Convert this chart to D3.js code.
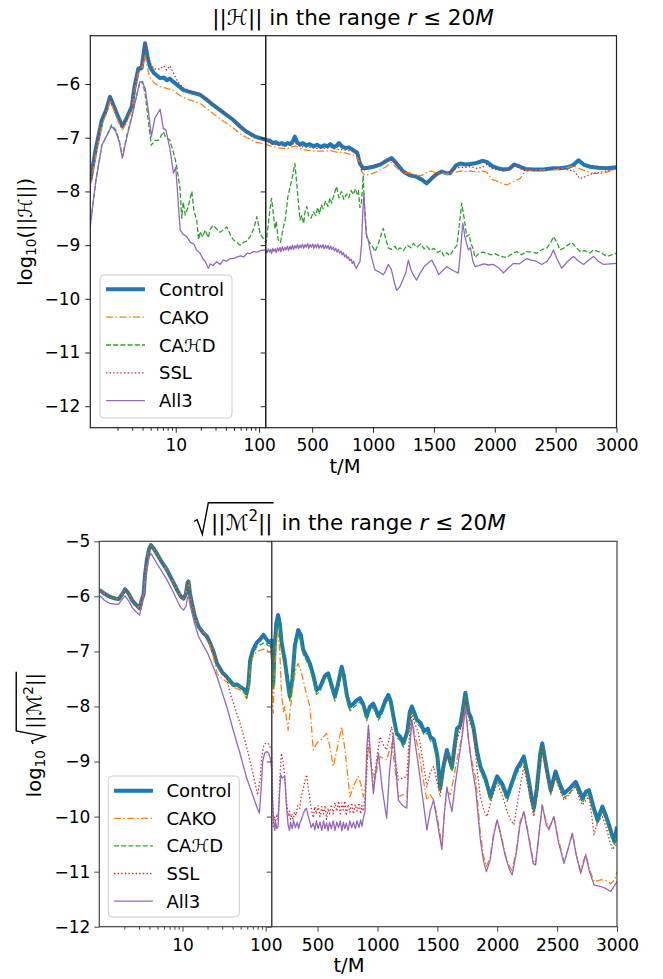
<!DOCTYPE html>
<html>
<head>
<meta charset="utf-8">
<script src="https://cdn.jsdelivr.net/npm/d3@7"></script>
<style>
  body { margin: 0; background: #fff; }
  text { font-family: "DejaVu Sans", sans-serif; }
</style>
</head>
<body>
<svg id="fig" width="663" height="979"></svg>
<script>
// series names + tick labels
const seriesNames = ['Control', 'CAKO', 'CA\u210BD', 'SSL', 'All3']
const xTicksLog = [10, 100]
const xTicksLin = [500, 1000, 1500, 2000, 2500, 3000]
const yTicksTop = [-6, -7, -8, -9, -10, -11, -12]
const yTicksBot = [-5, -6, -7, -8, -9, -10, -11, -12]

// ---- top panel: log10 ||H||, pairs of [t/M, value]
const topControl = [[0.94,-7.82],[1.1,-7.2],[1.3,-6.67],[1.45,-6.5],[1.63,-6.24],[1.85,-6.45],[2.05,-6.62],[2.29,-6.79],[2.6,-6.62],[2.97,-6.42],[3.2,-6.05],[3.56,-5.71],[3.9,-5.7],[4.28,-5.24],[4.6,-5.5],[4.9,-5.68],[5.5,-5.8],[6.5,-5.89],[7.2,-5.88],[7.8,-5.93],[8.5,-5.9],[9.4,-5.96],[10.5,-6.02],[12.3,-6.11],[15,-6.15],[19.6,-6.2],[23,-6.28],[28,-6.39],[35,-6.5],[49,-6.67],[60,-6.8],[71,-6.89],[90,-6.98],[120,-7.04],
  [150,-7.05],[175,-7.1],[200,-7.08],[225,-7.12],[250,-7.1],[275,-7.13],[300,-7.1],[320,-7.12],[340,-7.07],[358,-6.98],[375,-7.08],[400,-7.13],[420,-7.1],[450,-7.14],[480,-7.12],[510,-7.16],[540,-7.13],[570,-7.17],[600,-7.14],[625,-7.16],[650,-7.12],[675,-7.17],[700,-7.15],[720,-7.1],[750,-7.17],[775,-7.19],[800,-7.18],[837,-7.23],[870,-7.28],[892,-7.48],[919,-7.57],[960,-7.56],[1002,-7.54],[1060,-7.5],[1110,-7.43],[1153,-7.38],[1190,-7.47],[1248,-7.63],[1300,-7.7],[1350,-7.72],[1400,-7.78],[1441,-7.85],[1480,-7.76],[1520,-7.68],[1564,-7.63],[1600,-7.66],[1632,-7.66],[1680,-7.52],[1715,-7.48],[1760,-7.5],[1800,-7.49],[1850,-7.47],[1900,-7.43],[1934,-7.45],[1980,-7.53],[2030,-7.57],[2071,-7.59],[2120,-7.58],[2160,-7.5],[2208,-7.54],[2250,-7.58],[2317,-7.59],[2400,-7.59],[2480,-7.57],[2537,-7.57],[2600,-7.55],[2650,-7.5],[2688,-7.42],[2730,-7.5],[2784,-7.54],[2850,-7.56],[2920,-7.57],[3000,-7.55]]
const topCAKO = [[0.94,-7.91],[1.1,-7.3],[1.3,-6.75],[1.45,-6.58],[1.63,-6.3],[1.85,-6.52],[2.05,-6.7],[2.29,-6.86],[2.6,-6.7],[2.97,-6.48],[3.2,-6.12],[3.56,-5.76],[3.9,-5.75],[4.28,-5.46],[4.6,-5.72],[4.9,-5.88],[5.5,-5.98],[6.5,-6.05],[7.8,-6.08],[9.4,-6.12],[10.5,-6.18],[12.3,-6.25],[15,-6.3],[19.6,-6.36],[23,-6.44],[28,-6.55],[35,-6.66],[49,-6.82],[60,-6.93],[71,-7.0],[90,-7.08],[120,-7.12],
  [150,-7.15],[200,-7.18],[250,-7.2],[300,-7.2],[358,-7.15],[420,-7.22],[480,-7.24],[540,-7.25],[600,-7.25],[650,-7.24],[700,-7.27],[750,-7.27],[800,-7.3],[850,-7.33],[880,-7.4],[905,-7.62],[930,-7.7],[980,-7.68],[1040,-7.62],[1100,-7.55],[1153,-7.46],[1190,-7.55],[1248,-7.66],[1300,-7.65],[1350,-7.7],[1400,-7.7],[1441,-7.65],[1480,-7.62],[1520,-7.66],[1564,-7.65],[1600,-7.68],[1632,-7.66],[1680,-7.64],[1715,-7.62],[1760,-7.63],[1800,-7.62],[1850,-7.64],[1900,-7.62],[1934,-7.64],[1980,-7.78],[2030,-7.82],[2071,-7.86],[2100,-7.88],[2150,-7.82],[2208,-7.76],[2250,-7.62],[2317,-7.6],[2400,-7.6],[2480,-7.6],[2537,-7.58],[2600,-7.55],[2650,-7.52],[2700,-7.58],[2750,-7.62],[2800,-7.66],[2850,-7.67],[2920,-7.64],[3000,-7.58]]
const topCAHD = [[0.94,-8.66],[1.1,-7.8],[1.3,-7.14],[1.5,-6.95],[1.7,-6.76],[1.9,-6.85],[2.1,-7.05],[2.29,-7.35],[2.6,-6.95],[2.97,-6.6],[3.3,-6.3],[3.7,-5.98],[4.0,-5.95],[4.3,-6.2],[4.7,-6.7],[5.1,-7.14],[5.6,-7.05],[6.2,-7.05],[7.1,-6.89],[7.6,-7.0],[8.5,-7.04],[9.1,-7.2],[9.8,-7.38],[10.4,-7.59],[11.3,-7.97],[11.8,-8.5],[12.3,-8.2],[13,-8.44],[14,-8.3],[15.6,-8.0],[16.5,-8.35],[17.9,-8.55],[18.8,-8.9],[19.6,-8.75],[21,-8.85],[22.5,-8.72],[24.6,-8.86],[26,-8.7],[28,-8.63],[31,-8.7],[34,-8.76],[37,-8.72],[41,-8.66],[45,-8.8],[49,-8.9],[54,-8.95],[59,-9.0],[65,-8.95],[72,-8.92],[78,-8.84],[86,-8.7],[94,-8.47],[98,-8.6],[103,-8.8],[110,-8.85],[120,-8.95],
  [125,-8.9],[140,-8.6],[155,-8.3],[166,-8.13],[180,-8.4],[195,-8.7],[205,-8.55],[220,-8.9],[240,-8.95],[260,-8.7],[280,-8.5],[300,-8.1],[320,-7.9],[340,-7.7],[358,-7.48],[375,-7.9],[390,-8.3],[400,-8.53],[415,-8.45],[430,-8.6],[440,-8.4],[455,-8.28],[470,-8.45],[490,-8.5],[510,-8.38],[530,-8.45],[545,-8.3],[560,-8.42],[575,-8.25],[590,-8.32],[610,-8.18],[630,-8.28],[645,-8.12],[660,-8.22],[680,-8.05],[700,-7.91],[720,-8.12],[740,-8.0],[760,-8.15],[782,-8.05],[800,-8.12],[820,-7.98],[837,-8.06],[855,-7.95],[870,-8.05],[880,-7.98],[892,-8.3],[905,-8.2],[919,-7.7],[930,-8.28],[947,-8.84],[970,-8.95],[990,-9.0],[1015,-9.12],[1040,-9.0],[1060,-8.85],[1084,-8.69],[1100,-8.85],[1125,-9.05],[1150,-9.08],[1180,-9.02],[1200,-9.1],[1221,-9.05],[1250,-9.1],[1280,-9.0],[1310,-9.05],[1331,-8.97],[1360,-9.04],[1390,-8.98],[1420,-9.07],[1441,-9.02],[1470,-9.1],[1500,-9.06],[1530,-9.14],[1560,-9.1],[1580,-9.2],[1605,-9.14],[1630,-9.2],[1660,-9.09],[1690,-9.0],[1710,-8.6],[1728,-8.22],[1745,-8.45],[1770,-8.84],[1790,-8.8],[1803,-8.97],[1820,-9.05],[1838,-9.23],[1870,-9.15],[1900,-9.13],[1934,-9.15],[1970,-9.18],[2000,-9.16],[2040,-9.2],[2070,-9.22],[2099,-9.23],[2130,-9.18],[2160,-9.14],[2181,-9.12],[2220,-9.18],[2260,-9.12],[2300,-9.13],[2345,-9.15],[2390,-9.08],[2430,-9.05],[2460,-8.95],[2482,-8.84],[2510,-8.95],[2537,-9.09],[2570,-9.05],[2600,-9.0],[2633,-8.95],[2670,-9.05],[2702,-9.12],[2740,-9.1],[2780,-9.15],[2811,-9.09],[2850,-9.12],[2880,-9.15],[2920,-9.21],[2960,-9.18],[3000,-9.15]]
const topSSL = [[0.94,-7.85],[1.1,-7.22],[1.3,-6.68],[1.45,-6.5],[1.63,-6.25],[1.85,-6.46],[2.05,-6.63],[2.29,-6.8],[2.6,-6.62],[2.97,-6.42],[3.2,-6.05],[3.56,-5.7],[3.9,-5.68],[4.28,-5.24],[4.6,-5.45],[4.9,-5.6],[5.5,-5.72],[6.5,-5.72],[7.2,-5.66],[7.8,-5.74],[8.5,-5.66],[9.4,-5.8],[10.5,-5.95],[12.3,-6.07],[15,-6.13],[19.6,-6.18],[23,-6.26],[28,-6.37],[35,-6.48],[49,-6.65],[60,-6.78],[71,-6.88],[90,-6.98],[120,-7.05],
  [150,-7.1],[200,-7.13],[250,-7.15],[300,-7.15],[358,-7.1],[420,-7.17],[480,-7.18],[540,-7.2],[600,-7.2],[650,-7.18],[700,-7.22],[750,-7.22],[800,-7.24],[850,-7.27],[880,-7.35],[905,-7.6],[930,-7.6],[960,-7.55],[1002,-7.52],[1060,-7.48],[1110,-7.43],[1153,-7.42],[1190,-7.5],[1248,-7.63],[1300,-7.7],[1350,-7.73],[1400,-7.78],[1441,-7.83],[1480,-7.76],[1520,-7.68],[1564,-7.63],[1600,-7.64],[1632,-7.64],[1680,-7.57],[1715,-7.55],[1760,-7.55],[1800,-7.54],[1850,-7.57],[1900,-7.55],[1934,-7.5],[1980,-7.58],[2030,-7.6],[2071,-7.62],[2120,-7.58],[2160,-7.5],[2208,-7.57],[2250,-7.62],[2317,-7.6],[2400,-7.6],[2480,-7.58],[2537,-7.57],[2600,-7.6],[2650,-7.62],[2700,-7.76],[2750,-7.72],[2784,-7.68],[2850,-7.65],[2920,-7.62],[3000,-7.58]]
const topAll3 = [[0.94,-8.66],[1.1,-7.8],[1.3,-7.14],[1.5,-6.95],[1.7,-6.79],[1.9,-6.88],[2.1,-7.08],[2.29,-7.38],[2.6,-6.98],[2.97,-6.62],[3.3,-6.3],[3.7,-5.96],[4.0,-5.98],[4.3,-6.08],[4.7,-6.5],[5.1,-6.98],[5.6,-6.64],[6.5,-6.47],[7.1,-6.83],[7.6,-6.85],[8.5,-7.2],[9.4,-7.66],[10.0,-7.55],[10.6,-8.1],[11.3,-8.72],[12.3,-8.8],[13.5,-8.84],[15,-8.95],[16.5,-8.98],[17.9,-9.1],[19.6,-9.15],[21,-9.25],[22.5,-9.3],[24.6,-9.43],[26,-9.35],[28,-9.38],[31,-9.31],[34,-9.36],[37,-9.28],[41,-9.3],[45,-9.25],[49,-9.25],[55,-9.22],[60,-9.2],[65,-9.22],[72,-9.15],[78,-9.16],[85,-9.12],[95,-9.13],[105,-9.1],[120,-9.09],
  [128,-9.15],[138,-9.07],[147,-9.13],[158,-9.08],[166,-9.16],[176,-9.06],[185,-9.12],[196,-9.07],[204,-9.14],[215,-9.05],[224,-9.11],[236,-9.04],[243,-9.12],[256,-9.03],[264,-9.1],[277,-9.04],[284,-9.09],[297,-9.02],[305,-9.1],[318,-9.02],[326,-9.08],[338,-9.0],[346,-9.08],[358,-9.01],[367,-9.06],[380,-8.99],[388,-9.07],[400,-9.0],[409,-9.05],[421,-8.98],[430,-9.06],[442,-8.99],[451,-9.04],[463,-8.97],[472,-9.06],[484,-8.99],[493,-9.04],[505,-8.98],[514,-9.06],[526,-8.99],[535,-9.05],[547,-8.98],[556,-9.06],[568,-9.0],[577,-9.05],[589,-8.99],[598,-9.07],[610,-9.0],[619,-9.06],[631,-9.01],[640,-9.08],[652,-9.02],[661,-9.08],[673,-9.04],[682,-9.11],[694,-9.06],[703,-9.13],[715,-9.08],[724,-9.15],[736,-9.11],[745,-9.18],[757,-9.14],[766,-9.22],[778,-9.18],[787,-9.25],[799,-9.22],[808,-9.29],[820,-9.26],[829,-9.34],[841,-9.3],[850,-9.38],[864,-9.43],[880,-9.35],[892,-9.31],[905,-9.0],[915,-8.4],[925,-8.04],[935,-8.5],[945,-8.8],[960,-8.9],[985,-9.2],[1015,-9.46],[1050,-9.5],[1084,-9.55],[1100,-9.5],[1125,-9.36],[1150,-9.45],[1175,-9.7],[1194,-9.84],[1210,-9.8],[1221,-9.77],[1245,-9.65],[1270,-9.5],[1290,-9.28],[1310,-9.45],[1330,-9.55],[1358,-9.65],[1380,-9.55],[1420,-9.4],[1460,-9.32],[1482,-9.28],[1510,-9.4],[1540,-9.55],[1560,-9.5],[1605,-9.4],[1640,-9.45],[1680,-9.5],[1701,-9.52],[1715,-9.2],[1737,-8.59],[1755,-8.85],[1783,-9.09],[1800,-9.05],[1820,-9.3],[1838,-9.4],[1870,-9.38],[1910,-9.35],[1950,-9.37],[1989,-9.36],[2030,-9.42],[2071,-9.52],[2100,-9.45],[2153,-9.34],[2200,-9.35],[2230,-9.3],[2263,-9.25],[2300,-9.28],[2340,-9.3],[2386,-9.36],[2430,-9.3],[2460,-9.2],[2482,-9.09],[2510,-9.25],[2550,-9.43],[2600,-9.3],[2647,-9.21],[2690,-9.3],[2729,-9.36],[2770,-9.28],[2811,-9.21],[2850,-9.3],[2893,-9.36],[2950,-9.35],[3000,-9.34]]

// ---- bottom panel: log10 sqrt(||M^2||)
const botControl = [[1,-5.88],[1.15,-5.95],[1.35,-6.01],[1.55,-6.04],[1.71,-6.05],[1.85,-5.98],[2.04,-5.87],[2.25,-5.95],[2.48,-6.07],[2.75,-6.15],[3.05,-6.22],[3.25,-6.05],[3.4,-5.97],[3.55,-5.6],[3.73,-5.34],[3.95,-5.15],[4.17,-5.07],[4.5,-5.13],[4.9,-5.22],[5.5,-5.35],[6.5,-5.52],[7.5,-5.7],[8.6,-5.88],[9.5,-6.0],[10.3,-6.04],[11.0,-5.95],[11.5,-5.75],[11.8,-5.73],[12.3,-5.95],[13,-6.13],[14,-6.35],[15.6,-6.55],[17.9,-6.67],[19.5,-6.72],[21.5,-6.85],[23.5,-7.0],[26,-7.22],[30,-7.38],[34,-7.46],[38,-7.55],[41,-7.61],[45,-7.6],[49,-7.64],[54,-7.68],[59,-7.76],[62,-7.6],[65,-7.16],[70,-6.98],[78,-6.84],[86,-6.78],[94,-6.7],[100,-6.76],[108,-6.83],[114,-6.82],
  [117,-6.8],[124,-7.3],[130,-7.6],[140,-7.0],[155,-6.5],[170,-6.34],[185,-6.5],[200,-6.85],[226,-7.16],[250,-7.55],[268,-7.82],[290,-7.5],[310,-6.9],[338,-6.61],[360,-6.7],[380,-6.97],[410,-7.1],[436,-7.22],[460,-7.4],[492,-7.7],[520,-7.65],[560,-7.45],[589,-7.4],[615,-7.6],[645,-7.82],[670,-7.6],[701,-7.28],[720,-7.45],[745,-7.8],[770,-8.0],[800,-7.95],[830,-7.88],[854,-7.85],[880,-7.95],[910,-8.18],[938,-8.0],[965,-7.95],[985,-8.05],[1008,-8.18],[1040,-8.05],[1065,-7.9],[1091,-7.79],[1110,-7.9],[1135,-8.2],[1161,-8.49],[1190,-8.55],[1217,-8.67],[1250,-8.45],[1270,-8.1],[1287,-8.0],[1305,-8.1],[1329,-8.24],[1360,-8.3],[1390,-8.45],[1420,-8.4],[1441,-8.55],[1470,-8.6],[1500,-8.9],[1524,-9.49],[1550,-9.1],[1580,-8.79],[1600,-8.95],[1622,-9.11],[1645,-8.7],[1664,-8.4],[1690,-8.35],[1710,-8.1],[1734,-7.75],[1760,-8.1],[1780,-8.2],[1803,-8.4],[1830,-8.8],[1859,-9.09],[1900,-9.3],[1943,-9.64],[1970,-9.45],[1999,-9.27],[2040,-9.4],[2083,-9.64],[2120,-9.4],[2160,-9.15],[2200,-9.0],[2222,-8.91],[2260,-9.3],[2290,-9.7],[2306,-9.85],[2330,-9.5],[2360,-8.85],[2376,-8.67],[2410,-9.1],[2446,-9.52],[2487,-9.18],[2520,-9.4],[2557,-9.58],[2600,-9.5],[2655,-9.37],[2690,-9.55],[2711,-9.67],[2740,-9.55],[2766,-9.52],[2800,-9.8],[2837,-10.06],[2878,-9.82],[2910,-10.0],[2940,-10.2],[2962,-10.36],[2980,-10.45],[3000,-10.18]]
const botCAKO = [[1,-5.88],[1.15,-5.95],[1.35,-6.01],[1.55,-6.04],[1.71,-6.05],[1.85,-5.98],[2.04,-5.87],[2.25,-5.95],[2.48,-6.07],[2.75,-6.15],[3.05,-6.22],[3.25,-6.05],[3.4,-5.97],[3.55,-5.6],[3.73,-5.34],[3.95,-5.15],[4.17,-5.07],[4.5,-5.13],[4.9,-5.22],[5.5,-5.35],[6.5,-5.52],[7.5,-5.7],[8.6,-5.88],[9.5,-6.0],[10.3,-6.04],[11.0,-5.95],[11.5,-5.75],[11.8,-5.73],[12.3,-5.95],[13,-6.13],[14,-6.35],[15.6,-6.55],[17.9,-6.65],[20,-6.75],[23.5,-7.1],[26,-7.4],[30,-7.5],[34,-7.55],[41,-7.65],[49,-7.7],[54,-7.75],[59,-7.86],[62,-7.7],[65,-7.3],[70,-7.1],[78,-7.0],[86,-6.98],[94,-6.96],[104,-6.98],[114,-6.95],
  [117,-7.03],[124,-7.6],[130,-8.12],[140,-7.3],[155,-6.8],[170,-6.67],[185,-7.0],[198,-7.73],[215,-8.1],[226,-8.0],[240,-8.2],[254,-8.43],[270,-8.1],[296,-7.6],[320,-7.3],[338,-7.22],[360,-7.35],[380,-7.52],[410,-7.8],[436,-8.0],[464,-8.79],[492,-8.67],[530,-8.6],[575,-8.49],[600,-8.7],[631,-9.09],[660,-8.8],[701,-8.37],[730,-8.8],[770,-9.64],[800,-9.45],[840,-9.27],[860,-9.4],[882,-9.64],[900,-9.4],[924,-8.73],[950,-9.1],[980,-9.33],[1000,-9.1],[1022,-8.91],[1050,-8.95],[1077,-8.97],[1100,-8.8],[1119,-8.67],[1145,-9.1],[1175,-9.64],[1210,-9.6],[1245,-9.64],[1265,-8.8],[1287,-8.24],[1310,-8.5],[1343,-8.79],[1380,-9.3],[1413,-9.7],[1440,-9.6],[1469,-9.7],[1500,-10.0],[1538,-10.54],[1560,-9.9],[1580,-9.55],[1610,-9.6],[1636,-9.3],[1665,-8.95],[1700,-8.6],[1734,-8.0],[1760,-8.6],[1789,-9.0],[1820,-9.3],[1859,-10.3],[1885,-10.7],[1909,-10.91],[1940,-10.75],[1970,-10.3],[1999,-10.06],[2030,-10.3],[2069,-10.7],[2100,-10.9],[2125,-10.98],[2160,-10.6],[2190,-10.1],[2222,-9.91],[2260,-10.3],[2300,-10.8],[2320,-10.85],[2350,-10.3],[2376,-9.79],[2410,-10.1],[2432,-10.2],[2473,-10.0],[2510,-10.4],[2557,-10.82],[2590,-10.6],[2627,-10.3],[2660,-10.7],[2697,-10.98],[2720,-10.8],[2739,-10.68],[2770,-10.95],[2808,-11.18],[2864,-11.15],[2900,-11.15],[2948,-11.22],[2980,-11.15],[3000,-11.0]]
const botCAHD = [[1,-5.88],[1.15,-5.95],[1.35,-6.01],[1.55,-6.04],[1.71,-6.05],[1.85,-5.98],[2.04,-5.87],[2.25,-5.95],[2.48,-6.07],[2.75,-6.15],[3.05,-6.22],[3.25,-6.05],[3.4,-5.97],[3.55,-5.6],[3.73,-5.34],[3.95,-5.15],[4.17,-5.07],[4.5,-5.13],[4.9,-5.22],[5.5,-5.35],[6.5,-5.52],[7.5,-5.7],[8.6,-5.88],[9.5,-6.0],[10.3,-6.04],[11.0,-5.95],[11.5,-5.75],[11.8,-5.73],[12.3,-5.95],[13,-6.13],[14,-6.35],[15.6,-6.55],[17.9,-6.67],[19.5,-6.72],[21.5,-6.85],[23.5,-7.0],[26,-7.22],[30,-7.38],[34,-7.46],[38,-7.55],[41,-7.61],[45,-7.6],[49,-7.64],[54,-7.7],[59,-7.85],[62,-7.7],[65,-7.3],[70,-7.05],[78,-6.92],[86,-6.88],[94,-6.85],[100,-6.85],[108,-6.9],[114,-6.9],
  [117,-6.88],[124,-7.4],[130,-7.68],[140,-7.1],[155,-6.6],[170,-6.45],[185,-6.6],[200,-6.95],[226,-7.25],[250,-7.62],[268,-7.9],[290,-7.6],[310,-7.0],[338,-6.72],[360,-6.8],[380,-7.05],[410,-7.18],[436,-7.3],[460,-7.48],[492,-7.78],[520,-7.72],[560,-7.52],[589,-7.48],[615,-7.68],[645,-7.9],[670,-7.68],[701,-7.36],[720,-7.52],[745,-7.88],[770,-8.08],[800,-8.02],[830,-7.96],[854,-7.92],[880,-8.02],[910,-8.26],[938,-8.05],[965,-8.02],[985,-8.12],[1008,-8.25],[1040,-8.12],[1065,-7.97],[1091,-7.86],[1110,-7.97],[1135,-8.28],[1161,-8.56],[1190,-8.62],[1217,-8.74],[1250,-8.52],[1270,-8.17],[1287,-8.07],[1305,-8.17],[1329,-8.31],[1360,-8.38],[1390,-8.52],[1420,-8.48],[1441,-8.62],[1470,-8.68],[1500,-8.98],[1524,-9.56],[1550,-9.18],[1580,-8.86],[1600,-9.02],[1622,-9.18],[1645,-8.77],[1664,-8.47],[1690,-8.42],[1710,-8.17],[1734,-7.8],[1760,-8.17],[1780,-8.27],[1803,-8.47],[1830,-8.88],[1859,-9.17],[1900,-9.38],[1943,-9.72],[1970,-9.53],[1999,-9.35],[2040,-9.48],[2083,-9.72],[2120,-9.48],[2160,-9.23],[2200,-9.08],[2222,-8.99],[2260,-9.38],[2290,-9.78],[2306,-9.93],[2330,-9.58],[2360,-8.93],[2376,-8.75],[2410,-9.18],[2446,-9.6],[2487,-9.26],[2520,-9.48],[2557,-9.66],[2600,-9.58],[2655,-9.45],[2690,-9.63],[2711,-9.75],[2740,-9.63],[2766,-9.6],[2800,-9.88],[2837,-10.14],[2878,-9.9],[2910,-10.08],[2940,-10.28],[2962,-10.44],[2980,-10.5],[3000,-10.26]]
const botSSL = [[1,-5.88],[1.15,-5.95],[1.35,-6.01],[1.55,-6.04],[1.71,-6.05],[1.85,-5.98],[2.04,-5.87],[2.25,-5.95],[2.48,-6.07],[2.75,-6.15],[3.05,-6.22],[3.25,-6.05],[3.4,-5.97],[3.55,-5.6],[3.73,-5.34],[3.95,-5.15],[4.17,-5.07],[4.5,-5.13],[4.9,-5.22],[5.5,-5.35],[6.5,-5.52],[7.5,-5.7],[8.6,-5.88],[9.5,-6.0],[10.3,-6.04],[11.0,-5.95],[11.5,-5.75],[11.8,-5.73],[12.3,-5.95],[13,-6.13],[14,-6.35],[15.6,-6.55],[17.9,-6.67],[19.5,-6.72],[21.5,-6.85],[23.5,-7.0],[26,-7.22],[30,-7.38],[34,-7.5],[38,-7.8],[41,-7.94],[49,-8.3],[59,-8.73],[70,-9.2],[80,-9.61],[86,-9.3],[90,-8.9],[94,-8.73],[100,-8.66],[108,-8.68],[114,-8.75],
  [117,-8.8],[124,-9.5],[130,-10.18],[140,-10.0],[150,-10.1],[160,-9.95],[170,-10.05],[185,-9.3],[198,-8.85],[212,-9.0],[226,-9.27],[240,-9.7],[254,-10.0],[265,-9.9],[275,-10.05],[285,-9.95],[296,-10.08],[308,-9.92],[320,-9.98],[335,-9.8],[350,-9.85],[365,-9.62],[380,-9.5],[394,-9.35],[408,-9.24],[420,-9.45],[430,-9.6],[447,-9.85],[464,-10.02],[477,-9.82],[490,-9.95],[505,-9.8],[520,-10.0],[535,-9.82],[550,-9.95],[562,-9.8],[575,-10.05],[588,-9.85],[600,-9.95],[615,-9.78],[630,-9.95],[645,-9.75],[660,-9.9],[675,-9.72],[690,-9.95],[703,-9.75],[715,-9.88],[728,-9.72],[740,-9.98],[755,-9.78],[770,-9.92],[785,-9.75],[799,-9.95],[815,-9.78],[830,-9.9],[845,-9.75],[860,-9.95],[870,-9.8],[882,-9.9],[900,-9.6],[910,-9.27],[924,-8.37],[945,-9.0],[966,-9.52],[990,-9.0],[1022,-8.55],[1050,-8.7],[1077,-8.79],[1100,-8.55],[1119,-8.37],[1145,-8.9],[1175,-9.33],[1210,-9.3],[1245,-9.27],[1265,-8.6],[1287,-8.12],[1310,-8.3],[1343,-8.49],[1380,-9.0],[1413,-9.46],[1440,-9.2],[1469,-9.09],[1500,-9.4],[1524,-9.64],[1550,-9.2],[1580,-8.91],[1610,-9.0],[1636,-9.0],[1665,-8.6],[1692,-8.43],[1734,-7.88],[1770,-8.3],[1803,-8.43],[1830,-9.1],[1859,-9.64],[1890,-9.9],[1915,-10.0],[1950,-9.7],[1999,-9.39],[2040,-9.6],[2083,-9.91],[2110,-10.05],[2139,-10.15],[2180,-9.6],[2222,-9.09],[2260,-9.5],[2306,-10.0],[2340,-9.5],[2376,-8.76],[2410,-9.2],[2446,-9.58],[2487,-9.3],[2520,-9.5],[2557,-9.7],[2600,-9.6],[2655,-9.46],[2690,-9.7],[2711,-9.79],[2740,-9.7],[2766,-9.64],[2790,-10.0],[2808,-10.33],[2840,-10.1],[2878,-10.0],[2910,-10.2],[2940,-10.45],[2962,-10.6],[3000,-10.49]]
const botAll3 = [[1,-5.98],[1.15,-6.07],[1.35,-6.13],[1.55,-6.14],[1.71,-6.14],[1.85,-6.07],[2.04,-5.99],[2.25,-6.08],[2.48,-6.2],[2.75,-6.28],[3.05,-6.34],[3.25,-6.15],[3.4,-6.0],[3.55,-5.75],[3.73,-5.5],[3.95,-5.3],[4.17,-5.22],[4.5,-5.3],[4.9,-5.4],[5.5,-5.52],[6.5,-5.7],[7.5,-5.88],[8.6,-6.07],[9.5,-6.2],[10.3,-6.25],[11.0,-6.18],[11.5,-6.02],[11.8,-5.99],[12.3,-6.15],[13,-6.3],[14,-6.5],[15.6,-6.73],[17.9,-6.9],[20,-7.03],[23,-7.25],[26,-7.46],[30,-7.75],[34,-8.0],[41,-8.45],[49,-8.85],[59,-9.3],[71,-9.64],[78,-9.82],[84,-9.94],[88,-9.5],[92,-9.0],[97,-8.85],[103,-8.82],[108,-8.84],[114,-8.95],
  [117,-9.1],[124,-9.7],[135,-10.12],[143,-10.25],[150,-10.1],[160,-10.22],[170,-10.18],[182,-9.6],[193,-9.24],[205,-9.3],[226,-9.27],[240,-9.8],[254,-10.15],[265,-10.25],[275,-10.1],[288,-10.22],[300,-10.08],[315,-10.2],[330,-10.1],[342,-10.22],[352,-10.12],[366,-10.05],[380,-9.95],[394,-9.88],[408,-9.85],[420,-9.98],[430,-10.05],[447,-10.2],[464,-10.12],[477,-10.24],[490,-10.08],[505,-10.22],[520,-10.1],[535,-10.25],[550,-10.08],[562,-10.22],[575,-10.12],[588,-10.26],[600,-10.1],[615,-10.22],[630,-10.08],[645,-10.25],[660,-10.1],[675,-10.2],[690,-10.08],[703,-10.26],[715,-10.1],[728,-10.22],[740,-10.12],[755,-10.25],[770,-10.08],[785,-10.2],[800,-10.1],[815,-10.22],[830,-10.08],[845,-10.2],[860,-10.06],[870,-10.18],[880,-10.05],[896,-9.91],[910,-8.79],[925,-8.34],[945,-9.0],[966,-9.58],[990,-9.1],[1008,-8.85],[1040,-9.5],[1077,-10.03],[1100,-9.2],[1133,-8.49],[1150,-9.0],[1175,-9.7],[1210,-9.8],[1245,-9.85],[1265,-8.9],[1287,-8.24],[1310,-8.6],[1343,-9.09],[1380,-9.7],[1413,-10.24],[1440,-9.9],[1469,-9.7],[1500,-10.1],[1538,-10.6],[1560,-9.9],[1580,-9.46],[1600,-9.7],[1622,-9.91],[1650,-9.4],[1678,-8.97],[1710,-8.5],[1734,-8.0],[1760,-8.6],[1789,-9.09],[1820,-9.5],[1859,-10.42],[1885,-10.8],[1909,-11.0],[1940,-10.8],[1970,-10.35],[1999,-10.06],[2030,-10.35],[2069,-10.73],[2100,-10.95],[2125,-11.06],[2160,-10.65],[2190,-10.15],[2222,-9.91],[2260,-10.35],[2300,-10.85],[2320,-10.88],[2350,-10.3],[2376,-9.79],[2410,-10.15],[2432,-10.24],[2473,-10.0],[2510,-10.45],[2557,-10.85],[2590,-10.6],[2627,-10.3],[2660,-10.7],[2697,-11.03],[2720,-10.85],[2739,-10.7],[2770,-11.0],[2808,-11.24],[2864,-11.27],[2900,-11.3],[2948,-11.36],[2980,-11.25],[3000,-11.18]]

// matplotlib tab10 style for each run
const styles = [
  {color: '#1f77b4', width: 4, dash: null},
  {color: '#ff7f0e', width: 1.3, dash: '7,2.5,1.5,2.5'},
  {color: '#2ca02c', width: 1.3, dash: '5,2.2'},
  {color: '#d62728', width: 1.3, dash: '1.4,2.2'},
  {color: '#9467bd', width: 1.3, dash: null}
]

const svg = d3.select('#fig')
const fmtMinus = d => '\u2212' + Math.abs(d)

// little mathtext-ish helper, pieces drawn side by side on a baseline at y=0
const drawMath = (g, pieces, fs) => {
  let x = 0
  let radStart = null
  pieces.forEach(p => {
    if (p.rad === 'open') { radStart = x; x += fs * 0.78; return }
    if (p.rad === 'close') {
      g.append('path')
        .attr('d', `M${radStart},${-fs*0.4} L${radStart+fs*0.14},${-fs*0.48} L${radStart+fs*0.38},${fs*0.2} L${radStart+fs*0.66},${-fs*1.27} L${x+fs*0.05},${-fs*1.27}`)
        .attr('fill', 'none').attr('stroke', '#000').attr('stroke-width', 1.4)
      x += fs * 0.1
      return
    }
    const size = (p.sup || p.sub) ? fs * 0.7 : fs
    const dy = p.sup ? -fs * 0.42 : p.sub ? fs * 0.22 : 0
    const t = g.append('text')
      .attr('x', x).attr('y', dy)
      .attr('font-size', size)
      .attr('font-style', p.it ? 'italic' : null)
      .style('white-space', 'pre')
      .text(p.t)
    x += t.node().getComputedTextLength()
  })
  return x
}

const drawPanel = (p) => {
  const xl = d3.scaleLog().domain(p.leftDomain).range([p.xa, p.xb])
  const xr = d3.scaleLinear().domain(p.rightDomain).range([p.xb, p.xc])
  const y = d3.scaleLinear().domain(p.yDomain).range([p.yb, p.ya])

  const g = svg.append('g')

  ;[['l', p.xa, p.xb], ['r', p.xb, p.xc]].forEach(([k, a, b]) => {
    g.append('clipPath').attr('id', `clip-${p.id}-${k}`)
      .append('rect').attr('x', a).attr('y', p.ya).attr('width', b - a).attr('height', p.yb - p.ya)
  })

  // lines, drawn once per axes with a clip
  ;[['l', xl], ['r', xr]].forEach(([k, sx]) => {
    const line = d3.line().x(d => sx(d[0])).y(d => y(d[1]))
    g.append('g').attr('clip-path', `url(#clip-${p.id}-${k})`)
      .selectAll('path')
      .data(p.series)
      .join('path')
        .attr('d', d => line(d))
        .attr('fill', 'none')
        .attr('stroke', (d, i) => styles[i].color)
        .attr('stroke-width', (d, i) => styles[i].width)
        .attr('stroke-dasharray', (d, i) => styles[i].dash)
        .attr('stroke-linejoin', 'round')
  })

  // left x axis (log) with minor ticks
  const minors = xl.ticks().filter(t => t > p.leftDomain[0] && t < p.leftDomain[1] && !xTicksLog.includes(t) && t !== 1)
  g.append('g')
    .attr('transform', `translate(0,${p.yb})`)
    .call(d3.axisBottom(xl).tickValues(minors).tickSize(3).tickFormat(''))
  g.append('g')
    .attr('transform', `translate(0,${p.yb})`)
    .call(d3.axisBottom(xl).tickValues(xTicksLog).tickSize(5).tickPadding(p.xpad).tickFormat(d3.format('d')))
  g.append('g')
    .attr('transform', `translate(0,${p.yb})`)
    .call(d3.axisBottom(xr).tickValues(xTicksLin).tickSize(5).tickPadding(p.xpad).tickFormat(d3.format('d')))

  g.append('g')
    .attr('transform', `translate(${p.xa},0)`)
    .call(d3.axisLeft(y).tickValues(p.yTicks).tickSize(5).tickPadding(p.ypad).tickFormat(fmtMinus))
  g.append('g')
    .attr('transform', `translate(${p.xb},0)`)
    .call(d3.axisLeft(y).tickValues(p.yTicks).tickSize(5).tickFormat(''))

  g.selectAll('.domain').remove()
  g.selectAll('.tick line').attr('stroke', p.spine).attr('stroke-width', 1)
  g.selectAll('.tick text').attr('font-size', 17).attr('fill', '#000').attr('font-family', '"DejaVu Sans", sans-serif')

  // spines
  ;[[p.xa, p.xb], [p.xb, p.xc]].forEach(([a, b]) => {
    g.append('rect').attr('x', a).attr('y', p.ya).attr('width', b - a).attr('height', p.yb - p.ya)
      .attr('fill', 'none').attr('stroke', p.spine).attr('stroke-width', 1.2)
  })

  // legend
  const L = p.legend
  const lg = g.append('g')
  lg.append('rect').attr('x', L.x).attr('y', L.y).attr('width', L.w).attr('height', L.h)
    .attr('rx', 4).attr('fill', '#fff').attr('fill-opacity', 0.8).attr('stroke', '#cccccc')
  seriesNames.forEach((name, i) => {
    const yy = L.y0 + i * L.dy
    lg.append('line').attr('x1', L.lx0).attr('x2', L.lx1).attr('y1', yy).attr('y2', yy)
      .attr('stroke', styles[i].color).attr('stroke-width', styles[i].width)
      .attr('stroke-dasharray', styles[i].dash)
    lg.append('text').attr('x', L.tx).attr('y', yy + 6.5).attr('font-size', 18).text(name)
  })

  // title
  const tg = g.append('g')
  const tw = drawMath(tg, p.title, 21.5)
  tg.attr('transform', `translate(${p.titleX - tw / 2},${p.titleY})`)

  // y label (rotated)
  const yg = g.append('g')
  const yw = drawMath(yg, p.ylabel, 19.5)
  yg.attr('transform', `translate(${p.ylabelX},${(p.ya + p.yb) / 2}) rotate(-90) translate(${-yw / 2},0)`)

  g.append('text').attr('x', p.xlabelX).attr('y', p.xlabelY)
    .attr('text-anchor', 'middle').attr('font-size', 19.5).text('t/M')
}

drawPanel({
  id: 'top', xa: 90.3, xb: 265.7, xc: 616.5, ya: 35.7, yb: 427.7,
  leftDomain: [0.944, 120], rightDomain: [118, 3000], yDomain: [-12.4, -5.1],
  yTicks: yTicksTop, spine: '#222', xpad: 6, ypad: 5,
  series: [topControl, topCAKO, topCAHD, topSSL, topAll3],
  legend: {x: 100, y: 275, w: 132, h: 143, y0: 289.3, dy: 27.85, lx0: 106, lx1: 145, tx: 159},
  title: [{t: '||\u210B|| in the range '}, {t: 'r', it: true}, {t: ' \u2264 20'}, {t: 'M', it: true}],
  titleX: 353, titleY: 25,
  ylabel: [{t: 'log'}, {t: '10', sub: true}, {t: '(||\u210B||)'}],
  ylabelX: 32,
  xlabelX: 345, xlabelY: 473
})

drawPanel({
  id: 'bot', xa: 99.3, xb: 271.7, xc: 617, ya: 541.3, yb: 926.7,
  leftDomain: [1, 118], rightDomain: [117, 3000], yDomain: [-12, -5],
  yTicks: yTicksBot, spine: '#444', xpad: 7, ypad: 4,
  series: [botControl, botCAKO, botCAHD, botSSL, botAll3],
  legend: {x: 108.3, y: 776, w: 131, h: 141, y0: 790.7, dy: 27.6, lx0: 114, lx1: 153, tx: 166.5},
  title: [{rad: 'open'}, {t: '||\u2133'}, {t: '2', sup: true}, {t: '||'}, {rad: 'close'}, {t: ' in the range '}, {t: 'r', it: true}, {t: ' \u2264 20'}, {t: 'M', it: true}],
  titleX: 350, titleY: 530,
  ylabel: [{t: 'log'}, {t: '10', sub: true}, {t: ' '}, {rad: 'open'}, {t: '||\u2133'}, {t: '2', sup: true}, {t: '||'}, {rad: 'close'}],
  ylabelX: 41,
  xlabelX: 349, xlabelY: 972
})
</script>
</body>
</html>
